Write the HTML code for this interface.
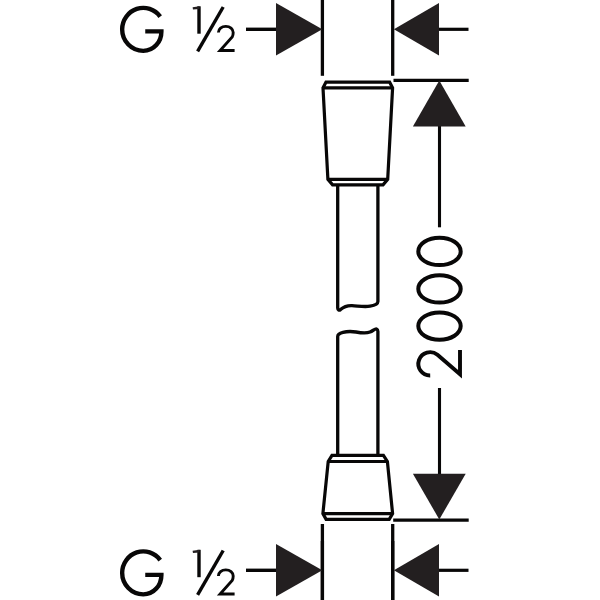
<!DOCTYPE html>
<html>
<head>
<meta charset="utf-8">
<style>
html,body{margin:0;padding:0;background:#fff;width:600px;height:600px;overflow:hidden;font-family:"Liberation Sans",sans-serif;}
svg{display:block;}
</style>
</head>
<body>
<svg width="600" height="600" viewBox="0 0 600 600">
<g fill="none" stroke="#080707" stroke-linecap="butt" stroke-linejoin="miter">
  <!-- label G 1/2 top -->
  <g>
    <path d="M160.2 16.6 A21.1 21.6 0 0 0 122.15 29.25 A21.1 21.6 0 0 0 143.25 50.85 C153.8 50.85 161.4 42 161.4 31.4 H145.25" stroke-width="4.4"/>
    <path d="M199 6.3 L199 33.7" stroke-width="3.4"/>
    <path d="M223.2 7 L197.6 51.3" stroke-width="3.4"/>
    <path d="M218.4 32.6 C218.4 29 221.6 26.4 225.8 26.4 C230 26.4 233.2 29.1 233.2 32.6 C233.2 34.5 232.8 36 232.2 37.0 L220.1 50.5 L234.6 50.5" stroke-width="2.9"/>
  </g>
  <g transform="translate(0,543.5)">
    <path d="M160.2 16.6 A21.1 21.6 0 0 0 122.15 29.25 A21.1 21.6 0 0 0 143.25 50.85 C153.8 50.85 161.4 42 161.4 31.4 H145.25" stroke-width="4.4"/>
    <path d="M199 6.3 L199 33.7" stroke-width="3.4"/>
    <path d="M223.2 7 L197.6 51.3" stroke-width="3.4"/>
    <path d="M218.4 32.6 C218.4 29 221.6 26.4 225.8 26.4 C230 26.4 233.2 29.1 233.2 32.6 C233.2 34.5 232.8 36 232.2 37.0 L220.1 50.5 L234.6 50.5" stroke-width="2.9"/>
  </g>

  <!-- top dimension G1/2 -->
  <g>
    <path d="M246 29.3 H277" stroke-width="3.4"/>
    <path d="M322.4 0 V75.8" stroke-width="3.3"/>
    <path d="M392.7 0 V75.8" stroke-width="3.3"/>
    <path d="M437.5 29.3 H468.5" stroke-width="3.2"/>
  </g>
  <g transform="translate(0,541)">
    <path d="M246 29.3 H277" stroke-width="3.4"/>
    <path d="M322.4 0 V75.8" stroke-width="3.3"/>
    <path d="M392.7 0 V75.8" stroke-width="3.3"/>
    <path d="M437.5 29.3 H468.5" stroke-width="3.2"/>
  </g>
  <path d="M322.4 524 V600" stroke-width="3.3"/>
  <path d="M392.7 524 V600" stroke-width="3.3"/>

  <!-- length dimension -->
  <path d="M393.5 80.3 H468.7" stroke-width="3.3"/>
  <path d="M393.2 520.1 H468.7" stroke-width="3.3"/>
  <path d="M439.5 125 V227.3" stroke-width="3.1"/>
  <path d="M439.5 388 V475" stroke-width="3.1"/>

  <!-- top fitting -->
  <path d="M326.0 82.1 H389.6 L392.6 87.9 L387.7 179.3 L383.0 184.9 H332.6 L327.9 179.3 L323.0 87.9 Z" stroke-width="3.2"/>
  <path d="M323.0 87.9 H392.6" stroke-width="3.2"/>
  <path d="M327.9 179.3 H387.7" stroke-width="3.2"/>
  <!-- hose upper -->
  <path d="M337.7 184.9 V308 C337.7 310 339.2 310.6 340.5 309.6 C344 306.5 347.5 305.4 352 305.6 C358 305.9 364 307.2 370 306.2 C374 305.5 377.9 304.5 377.9 301.5 V184.9" stroke-width="3.3" stroke-linejoin="round"/>
  <!-- hose lower -->
  <path d="M337.7 455.3 V336.5 C337.7 334 340 333.2 343 332.4 C347 331.3 351 331.2 356 332 C361 332.9 366 333.6 370 332 C373 330.8 375 328.6 376.5 329 C377.5 329.4 377.9 330.5 377.9 331.5 V455.3" stroke-width="3.3" stroke-linejoin="round"/>
  <!-- bottom fitting -->
  <path d="M332 455.3 H383.4 L387.4 461.5 L392.6 513.6 L389.2 519.3 H326.1 L322.9 513.6 L328.2 461.5 Z" stroke-width="3.2"/>
  <path d="M328.2 461.5 H387.4" stroke-width="3.2"/>
  <path d="M322.9 513.6 H392.6" stroke-width="3.2"/>

  <!-- 2000 rotated -->
  <ellipse cx="439.5" cy="251.4" rx="21.2" ry="13.7" stroke-width="4"/>
  <ellipse cx="439.5" cy="288.9" rx="21.2" ry="13.7" stroke-width="4"/>
  <ellipse cx="439.5" cy="326.1" rx="21.2" ry="13.7" stroke-width="4"/>
  <path d="M430.2 375.55 A11.7 11.7 0 1 1 437.46 354.79 L460 374.3 V350" stroke-width="3.9"/>
</g>
<g fill="#231f20" stroke="none">
  <path d="M276 3 L276 55.5 L322.3 29.25 Z"/>
  <path d="M439 3 L439 55.5 L393.9 29.25 Z"/>
  <path d="M276 544 L276 596.5 L322.3 570.25 Z"/>
  <path d="M439 544 L439 596.5 L393.9 570.25 Z"/>
  <path d="M439.3 80.5 L412.9 126.5 L465.7 126.5 Z"/>
  <path d="M439.3 519.5 L412.9 473.7 L465.7 473.7 Z"/>
  <path d="M192.6 7.2 L199.5 6.3 L199.5 9 L193 9.6 Z"/>
  <path d="M192.6 550.7 L199.5 549.8 L199.5 552.5 L193 553.1 Z"/>
</g>
</svg>
</body>
</html>
